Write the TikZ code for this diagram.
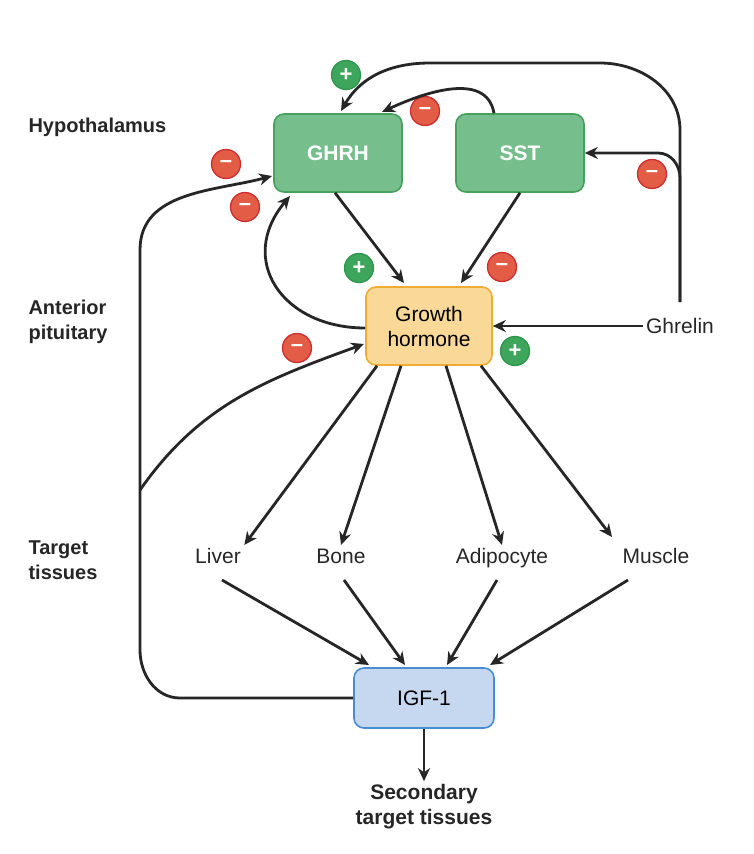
\documentclass[tikz,border=0pt]{standalone}
\usepackage{fontspec}
\setmainfont{Liberation Sans}
\usetikzlibrary{arrows.meta,positioning}
\definecolor{hypofill}{RGB}{118,190,140}
\definecolor{hypoline}{RGB}{72,160,95}
\definecolor{ghfill}{RGB}{249,216,152}
\definecolor{ghline}{RGB}{238,172,50}
\definecolor{igffill}{RGB}{198,216,240}
\definecolor{igfline}{RGB}{72,140,210}
\definecolor{minusfill}{RGB}{226,92,70}
\definecolor{minusline}{RGB}{205,45,45}
\definecolor{plusfill}{RGB}{62,165,92}
\definecolor{plusline}{RGB}{45,150,75}
\tikzset{
  hormone/.style={rounded corners=10pt, line width=1.6pt, minimum width=128pt, minimum height=78pt, align=center, font=\fontsize{21}{25}\selectfont},
  tissue/.style={font=\fontsize{21}{25}\selectfont, text=black!85, text depth=0pt, text height=15pt},
  region/.style={anchor=west, align=left, font=\bfseries\fontsize{20}{25}\selectfont, text=black!85},
  minus/.style={circle, fill=minusfill, draw=minusline, line width=1.3pt, minimum size=29pt, inner sep=0pt, text=white, font=\bfseries\fontsize{22}{22}\selectfont},
  plus/.style={circle, fill=plusfill, draw=plusline, line width=1.3pt, minimum size=29pt, inner sep=0pt, text=white, font=\bfseries\fontsize{22}{22}\selectfont},
  link/.style={-{Stealth[length=13pt,width=12pt]}, line width=2.8pt, black!85}
}
\begin{document}
\begin{tikzpicture}[x=1pt,y=-1pt]
        \useasboundingbox (0,0) rectangle (754,854);
        
        % Hormone boxes
        \node[hormone, fill=hypofill, draw=hypoline, text=white, font=\bfseries\fontsize{21}{25}\selectfont] (ghrh) at (338,153) {GHRH};
        \node[hormone, fill=hypofill, draw=hypoline, text=white, font=\bfseries\fontsize{21}{25}\selectfont] (sst) at (520,153) {SST};
        \node[hormone, fill=ghfill, draw=ghline, minimum width=126pt] (gh) at (429,326) {Growth\\hormone};
        \node[hormone, fill=igffill, draw=igfline, minimum width=140pt, minimum height=60pt] (igf) at (424,698) {IGF-1};
        
        % Text Nodes
        \node[tissue] (ghrelin) at (680,326) {Ghrelin};
        \node[tissue] (liver) at (218,556) {Liver};
        \node[tissue] (bone) at (341,556) {Bone};
        \node[tissue] (adipo) at (502,556) {Adipocyte};
        \node[tissue] (muscle) at (656,556) {Muscle};
        \node[align=center, font=\bfseries\fontsize{21}{25}\selectfont, text=black!85] (second) at (424,807) {Secondary\\target tissues};
        \node[region] (hypo) at (25,127) {Hypothalamus};
        \node[region] (pit) at (25,322) {Anterior\\pituitary};
        \node[region] (target) at (25,560) {Target\\tissues};
        
        % Signs
        \node[plus] (p1) at (346,75) {+};
        \node[plus] (p2) at (359,268) {+};
        \node[plus] (p3) at (515,351) {+};
        \node[minus] (m1) at (425,111) {--};
        \node[minus] (m2) at (226,164) {--};
        \node[minus] (m3) at (245,207) {--};
        \node[minus] (m4) at (502,267) {--};
        \node[minus] (m5) at (652,174) {--};
        \node[minus] (m6) at (297,348) {--};
        
        % Coordinates
        \coordinate (rise) at (680,302);
        \coordinate (trunk) at (140,490);
        
        % Connectors
        \draw[link] (ghrh.south) ++(-3,0) -- (404,283);
        \draw[link] (sst.south) -- (461,283);
        \draw[link] (ghrelin.west) -- (gh.east);
        \draw[link] (rise) -- (680,178) to[out=90,in=0] (658,153) -- (sst.east);
        \draw[link] (rise) -- (680,130) to[out=90,in=0] (600,63) -- (430,63) to[out=180,in=60] (341,111);
        \draw[link] (sst.north) ++(-26,0) to[out=100,in=25] (382,112);
        \draw[link] (gh.west) ++(0,2) to[out=180,in=230,looseness=1.4] (290,196);
        \draw[link] (igf.west) -- (180,698) to[out=180,in=270] (140,650) -- (140,250) to[out=90,in=195] (272,176);
        \draw[link] (trunk) to[out=55,in=200] (364,344);
        \draw[link] (gh.south) ++(-52,0) -- (liver.north east);
        \draw[link] (gh.south) ++(-28,0) -- (bone.north);
        \draw[link] (gh.south) ++(17,0) -- (adipo.north);
        \draw[link] (gh.south) ++(52,0) -- (612,537);
        \draw[link] (222,580) -- (369,665);
        \draw[link] (344,580) -- (405,665);
        \draw[link] (497,580) -- (447,665);
        \draw[link] (628,580) -- (490,665);
        \draw[link] (igf.south) -- (second.north);
        
\end{tikzpicture}
\end{document}
